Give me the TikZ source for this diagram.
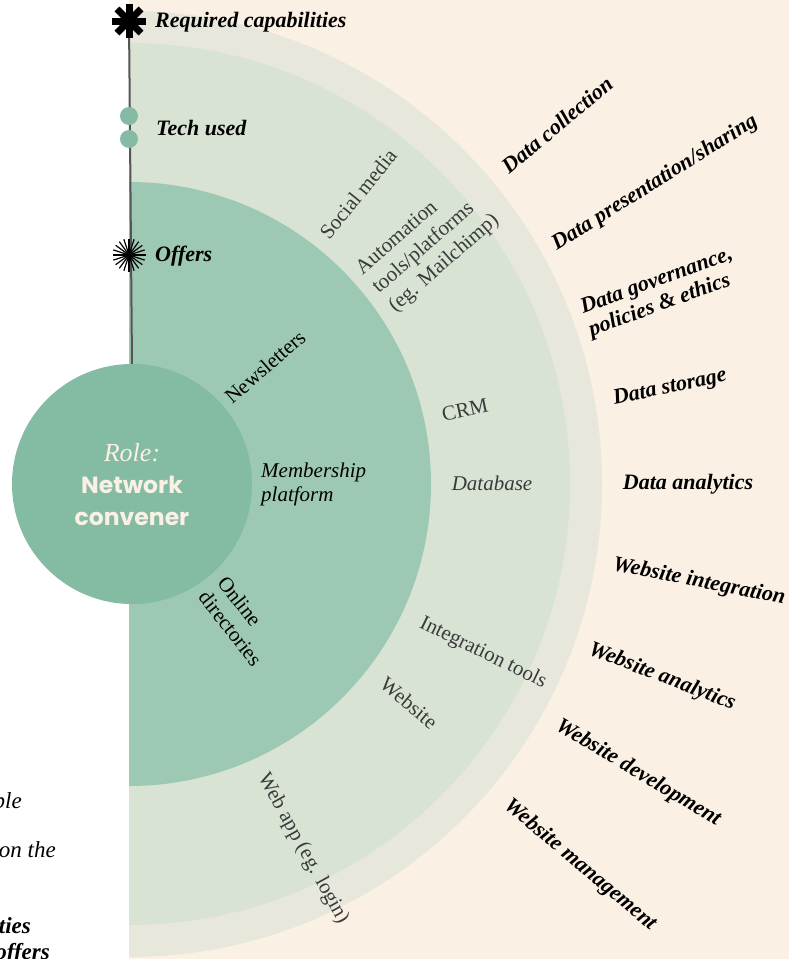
\documentclass[tikz,border=0pt]{standalone}
\usepackage{fontspec}
\setmainfont{Liberation Serif}
\newfontfamily\rolefont{Poppins}
\definecolor{bgbeige}{HTML}{FAF0E4}
\definecolor{ringout}{HTML}{E7E8DB}
\definecolor{ringmid}{HTML}{D8E3D3}
\definecolor{ringin}{HTML}{9DC8B3}
\definecolor{rolegreen}{HTML}{83BBA3}
\definecolor{dotgreen}{HTML}{85BBA5}
\definecolor{techgray}{HTML}{3A3A3A}
\definecolor{axisgray}{HTML}{555555}
\definecolor{cream}{HTML}{FAF0E4}
\begin{document}
\begin{tikzpicture}[x=1pt,y=-1pt,
  capab/.style={font=\fontsize{22}{24}\selectfont\bfseries\itshape, text=black, inner sep=0pt, align=left},
  techlbl/.style={font=\fontsize{21}{25}\selectfont, text=techgray, inner sep=0pt, align=left},
  offerlbl/.style={font=\fontsize{21}{24}\selectfont, text=black, inner sep=0pt, align=left},
  axislbl/.style={font=\fontsize{22}{24}\selectfont\bfseries\itshape, text=black, inner sep=0pt, anchor=west},
  legendlbl/.style={font=\fontsize{23}{25}\selectfont\itshape, text=black, inner sep=0pt, anchor=east},
  axisline/.style={draw=axisgray, line width=2pt},
  techdot/.style={circle, fill=dotgreen, minimum size=18pt, inner sep=0pt},
]
\useasboundingbox (0,0) rectangle (789,959);
\clip (0,0) rectangle (789,959);
% background bands
\fill[bgbeige] (129,0) rectangle (789,959);
\fill[ringout] (129,11) arc[start angle=-90, end angle=90, radius=473] -- cycle;
\fill[ringmid] (129,43) arc[start angle=-90, end angle=90, radius=441] -- cycle;
\fill[ringin] (129,182) arc[start angle=-90, end angle=90, radius=302] -- cycle;

% role circle
\node[circle, fill=rolegreen, minimum size=240pt, inner sep=0pt, align=center] (role) at (132,484) {};
\node[inner sep=0pt, text=cream, font=\fontsize{26}{28}\selectfont\itshape] (rolet) at (132,453) {Role:};
\node[inner sep=0pt, text=cream, align=center, font=\rolefont\bfseries\fontsize{23.5}{32}\selectfont] (rolen) at (132,501) {Network\\convener};

% axis
\coordinate (req) at (129,21);
\coordinate (offers) at (129,255);
\draw[axisline] (req) -- (role.north);
\foreach \a in {0,45,90,135}
  \draw[line width=7pt, shift={(req)}] (\a:17) -- (\a+180:17);
\node[techdot] (dot1) at (129,116) {};
\node[techdot] (dot2) at (129,139) {};
\foreach \a in {0,18,...,162}
  \draw[line width=1.2pt, shift={(offers)}] (\a:16.5) -- (\a+180:16.5);
\node[axislbl] (lreq) at (155,22) {Required capabilities};
\node[axislbl] (ltech) at (156,128) {Tech used};
\node[axislbl] (loff) at (155,256) {Offers};

% required capabilities
\node[capab, rotate=40] (c1) at (557,125) {Data collection};
\node[capab, rotate=32] (c2) at (655,183) {Data presentation/sharing};
\node[capab, rotate=20] (c3) at (661,293) {Data governance,\\policies \& ethics};
\node[capab, rotate=12] (c4) at (670,388) {Data storage};
\node[capab] (c5) at (688,484) {Data analytics};
\node[capab, rotate=-11] (c6) at (699,582) {Website integration};
\node[capab, rotate=-21] (c7) at (662,677) {Website analytics};
\node[capab, rotate=-31] (c8) at (638,773) {Website development};
\node[capab, rotate=-40] (c9) at (580,865) {Website management};

% tech used
\node[techlbl, rotate=51] (t1) at (358,194) {Social media};
\node[techlbl, rotate=41] (t2) at (428,245) {Automation\\tools/platforms\\(eg. Mailchimp)};
\node[techlbl, rotate=12] (t3) at (465,410) {CRM};
\node[techlbl, font=\fontsize{21}{25}\selectfont\itshape] (t4) at (492,483) {Database};
\node[techlbl, rotate=-26] (t5) at (483,653) {Integration tools};
\node[techlbl, rotate=-40] (t6) at (409,703) {Website};
\node[techlbl, rotate=-61] (t7) at (303,849) {Web app (eg. login)};

% offers
\node[offerlbl, rotate=41] (o1) at (265,367) {Newsletters};
\node[offerlbl, font=\fontsize{21}{24}\selectfont\itshape, anchor=west] (o2) at (261,484) {Membership\\platform};
\node[offerlbl, rotate=-52] (o3) at (240,621) {Online\\directories};

% legend fragments
\node[legendlbl] (g1) at (22,803) {ple};
\node[legendlbl] (g2) at (56,850) {on the};
\node[legendlbl, font=\fontsize{23}{25}\selectfont\bfseries\itshape] (g3) at (31,926) {ties};
\node[legendlbl, font=\fontsize{23}{25}\selectfont\bfseries\itshape] (g4) at (50,954) {offers};
\end{tikzpicture}
\end{document}
